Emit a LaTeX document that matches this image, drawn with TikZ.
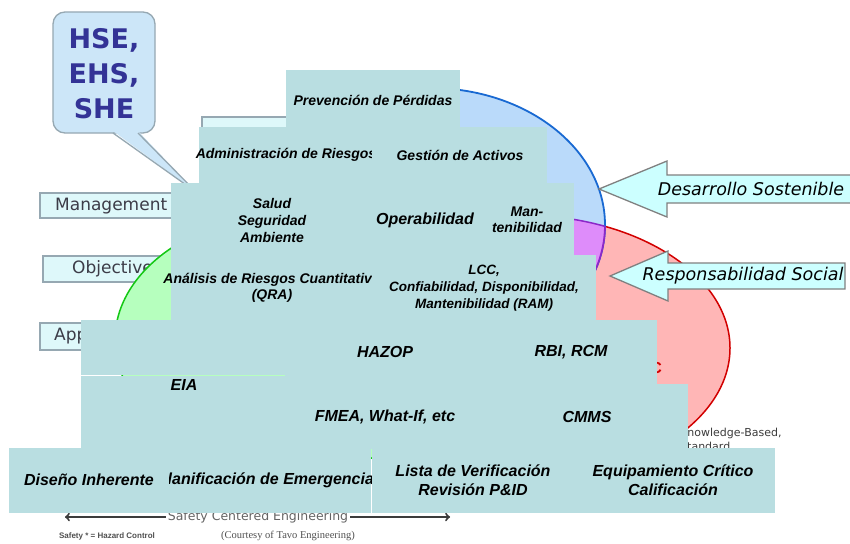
\documentclass[tikz,border=0pt]{standalone}
\usepackage{fontspec}
\setmainfont{Liberation Sans}
\newfontfamily\dejavu{DejaVu Sans}
\newfontfamily\serifa{Liberation Serif}

\definecolor{celeste}{RGB}{185,222,225}
\definecolor{cianclaro}{RGB}{204,255,255}
\definecolor{cianpalido}{RGB}{222,248,250}
\definecolor{grisflecha}{RGB}{128,128,128}
\definecolor{grisazul}{RGB}{150,168,178}
\definecolor{globofondo}{RGB}{204,230,248}
\definecolor{azulhse}{RGB}{51,51,150}
\definecolor{azulfondo}{RGB}{186,218,250}
\definecolor{azulborde}{RGB}{25,105,210}
\definecolor{rojofondo}{RGB}{255,182,182}
\definecolor{rojoborde}{RGB}{210,0,0}
\definecolor{moradofondo}{RGB}{222,140,250}
\definecolor{moradoborde}{RGB}{140,40,200}
\definecolor{verdefondo}{RGB}{182,255,190}
\definecolor{verdeborde}{RGB}{20,200,20}
\definecolor{grisetiq}{RGB}{60,60,72}
\definecolor{grispie}{RGB}{100,100,100}
\definecolor{grisoscuro}{RGB}{60,60,60}
\definecolor{grisnota}{RGB}{80,80,80}

\tikzset{
  celda/.style={fill=celeste},
  texto/.style={font=\bfseries\itshape\fontsize{14}{16}\selectfont, align=center, inner sep=0pt},
  textog/.style={font=\bfseries\itshape\fontsize{16}{19}\selectfont, align=center, inner sep=0pt},
  flecha/.style={draw=grisflecha, fill=cianclaro, line width=1.3pt},
  flechatexto/.style={font=\dejavu\itshape\fontsize{17.5}{17.5}\selectfont, inner sep=0pt},
  globo/.style={draw=grisazul, fill=globofondo, line width=1.3pt, rounded corners=12pt},
  etiqueta/.style={draw=grisazul, fill=cianpalido, line width=1.2pt},
  etiqtexto/.style={font=\dejavu\fontsize{17}{17}\selectfont, text=grisetiq, inner sep=0pt},
  pietexto/.style={font=\dejavu\fontsize{12.5}{12.5}\selectfont, text=grispie, inner sep=2pt}
}

\begin{document}
\begin{tikzpicture}[x=1pt,y=-1pt]
    \useasboundingbox (0,0) rectangle (850,543);
    \fill[white] (0,0) rectangle (850,543);
    % globo HSE
    \draw[globo] (53,12) rectangle (155,133);
    \fill[globofondo] (113,131) -- (196,192) -- (138,131) -- cycle;
    \draw[grisazul, line width=1.3pt] (113,133) -- (196,192) -- (138,133);
    \node[font=\dejavu\bfseries\fontsize{27}{35}\selectfont, text=azulhse, align=center] (hse) at (104,74) {HSE,\\EHS,\\SHE};
    % recuadros de fondo
    \draw[etiqueta] (202,117) rectangle (330,150);
    \draw[etiqueta] (40,193) rectangle (180,218);
    \node[etiqtexto, anchor=west] (manag) at (55,206) {Management};
    \draw[etiqueta] (43,256) rectangle (180,282);
    \node[etiqtexto, anchor=west] (objet) at (72,269) {Objective};
    \draw[etiqueta] (40,323) rectangle (180,350);
    \node[etiqtexto, anchor=west] (aprox) at (54,336) {Approach};
    % circulos
    \draw[verdeborde, fill=verdefondo, line width=1.5pt] (300,340) ellipse [x radius=185pt, y radius=128pt];
    \draw[rojoborde, fill=rojofondo, line width=1.5pt] (520,348) ellipse [x radius=210pt, y radius=133pt];
    \draw[azulborde, fill=azulfondo, line width=1.8pt] (430,225) ellipse [x radius=175pt, y radius=137pt];
    \begin{scope}
    \clip (430,225) ellipse [x radius=175pt, y radius=137pt];
    \fill[moradofondo] (520,348) ellipse [x radius=210pt, y radius=133pt];
    \draw[moradoborde, line width=1.5pt] (520,348) ellipse [x radius=210pt, y radius=133pt];
    \end{scope}
    \begin{scope}
    \clip (520,348) ellipse [x radius=210pt, y radius=133pt];
    \draw[moradoborde, line width=1.8pt] (430,225) ellipse [x radius=175pt, y radius=137pt];
    \end{scope}
    \node[font=\bfseries\fontsize{16}{16}\selectfont, text=rojoborde, anchor=east, inner sep=0pt] (letrac) at (662,368) {C};
    \node[font=\dejavu\fontsize{11}{14}\selectfont, text=grisoscuro, align=left, anchor=west, inner sep=0pt] (conoc) at (680,439) {Knowledge-Based,\\Standard};
    % flechas de la derecha
    \draw[flecha] (599,189) -- (667,161) -- (667,175) -- (856,175) -- (856,203) -- (667,203) -- (667,217) -- cycle;
    \node[flechatexto] (desarr) at (751,189) {Desarrollo Sostenible};
    \draw[flecha] (610,276) -- (668,251) -- (668,263) -- (845,263) -- (845,289) -- (668,289) -- (668,301) -- cycle;
    \node[flechatexto] (respon) at (743,276) {Responsabilidad Social};
    % pie
    \node[pietexto] (scent) at (258,517) {Safety Centered Engineering};
    \coordinate (pizq) at (65,517);
    \coordinate (pder) at (450,517);
    \draw[->, line width=2pt, grisoscuro] (scent.west) -- (pizq);
    \draw[->, line width=2pt, grisoscuro] (scent.east) -- (pder);
    \node[font=\bfseries\fontsize{8}{8}\selectfont, text=grisnota] (nota) at (107,536) {Safety * = Hazard Control};
    \node[font=\serifa\fontsize{10.5}{10.5}\selectfont, text=grisnota] (cortesia) at (288,536) {(Courtesy of Tavo Engineering)};
    % fila 1
    \fill[celda] (286,70) rectangle (460,128);
    \node[texto] (prev) at (373,100) {Prevención de Pérdidas};
    % fila 2
    \fill[celda] (199,127) rectangle (373,184);
    \node[texto] (admin) at (286,155) {Administración de Riesgos};
    \fill[celda] (372,127) rectangle (547,184);
    \node[texto] (gestion) at (460,155) {Gestión de Activos};
    % fila 3
    \fill[celda] (171,183) rectangle (373,256);
    \node[texto, font=\bfseries\itshape\fontsize{14}{17}\selectfont] (salud) at (272,220) {Salud\\Seguridad\\Ambiente};
    \fill[celda] (372,183) rectangle (479,256);
    \node[textog] (opera) at (425,220) {Operabilidad};
    \fill[celda] (478,183) rectangle (574,256);
    \node[texto] (mant) at (527,220) {Man-\\tenibilidad};
    % fila 4
    \fill[celda] (171,255) rectangle (373,321);
    \node[texto] (qra) at (272,288) {Análisis de Riesgos Cuantitativo\\(QRA)};
    \fill[celda] (372,255) rectangle (596,321);
    \node[texto, font=\bfseries\itshape\fontsize{13.5}{17}\selectfont] (lcc) at (484,288) {LCC,\\Confiabilidad, Disponibilidad,\\Mantenibilidad (RAM)};
    % fila 5
    \fill[celda] (81,320) rectangle (286,375);
    \fill[celda] (285,320) rectangle (486,385);
    \node[textog] (hazop) at (385,352) {HAZOP};
    \fill[celda] (485,320) rectangle (657,385);
    \node[textog] (rbi) at (571,352) {RBI, RCM};
    % fila 6
    \fill[celda] (81,376) rectangle (286,449);
    \node[textog] (eia) at (184,385) {EIA};
    \fill[celda] (285,384) rectangle (486,449);
    \node[textog] (fmea) at (385,417) {FMEA, What-If, etc};
    \fill[celda] (485,384) rectangle (688,449);
    \node[textog] (cmms) at (587,417) {CMMS};
    % fila 7
    \fill[celda] (168,448) rectangle (370.5,513);
    \node[textog] (planif) at (265.5,480) {Planificación de Emergencia};
    \fill[celda] (9,448) rectangle (168.5,513);
    \node[textog] (diseno) at (89,480) {Diseño Inherente};
    \fill[celda] (372,448) rectangle (575,513);
    \node[textog] (lista) at (473,480) {Lista de Verificación\\Revisión P\&ID};
    \fill[celda] (574,448) rectangle (775,513);
    \node[textog] (equipo) at (673,480) {Equipamiento Crítico\\Calificación};
\end{tikzpicture}
\end{document}
